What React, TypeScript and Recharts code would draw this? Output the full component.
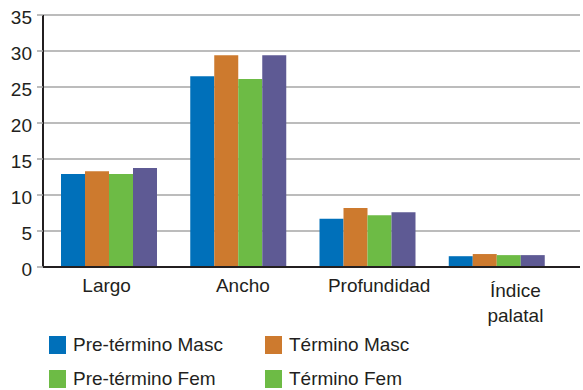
import React from 'react';
import { BarChart, Bar, XAxis, YAxis, CartesianGrid, Legend } from 'recharts';

const categories = ['Largo', 'Ancho', 'Profundidad', 'Índice palatal'];
const pretMasc = [12.9, 26.5, 6.7, 1.5];
const termMasc = [13.3, 29.4, 8.2, 1.8];
const pretFem = [12.9, 26.1, 7.2, 1.65];
const termFem = [13.75, 29.4, 7.6, 1.65];
const yTicks = [0, 5, 10, 15, 20, 25, 30, 35];

const seriesNames = ['Pre-término Masc', 'Término Masc', 'Pre-término Fem', 'Término Fem'];
const seriesKeys = ['pm', 'tm', 'pf', 'tf'];
const seriesColors = ['#0070BA', '#CD7A2E', '#6DBB45', '#5E5A94'];
// legend swatches as shown in the reference (last swatch is green there)
const legendColors = ['#0070BA', '#CD7A2E', '#6DBB45', '#6DBB45'];

const data = categories.map((c, i) => ({
  name: c,
  pm: pretMasc[i],
  tm: termMasc[i],
  pf: pretFem[i],
  tf: termFem[i],
}));

const FONT = '"Liberation Sans", Arial, sans-serif';
const TXT = '#231f20';
const LABEL_DRIFT = 7; // category labels drift right relative to bar groups

const XTick = (props: any) => {
  const { x, y, payload, index } = props;
  const label: string = payload.value;
  const lines = label.includes(' ') ? label.split(' ') : [label];
  const start = lines.length > 1 ? 30 : 25;
  const cx = x - 3 + (index || 0) * LABEL_DRIFT;
  return (
    <text x={cx} y={y} textAnchor="middle" fontFamily={FONT} fontSize={19} fill={TXT}>
      {lines.map((l, i) => (
        <tspan key={i} x={cx} y={y + start + i * 25}>{l}</tspan>
      ))}
    </text>
  );
};

const YTick = (props: any) => {
  const { x, y, payload } = props;
  return (
    <text x={x} y={y + 9} textAnchor="end" fontFamily={FONT} fontSize={19} fill={TXT}>
      {payload.value}
    </text>
  );
};

const LegendContent = () => {
  const pos = [
    { left: 49, top: 336 },
    { left: 265, top: 336 },
    { left: 49, top: 370 },
    { left: 265, top: 370 },
  ];
  return (
    <div style={{ position: 'relative', height: 0 }}>
      {seriesNames.map((n, i) => (
        <div key={n} style={{ position: 'absolute', left: pos[i].left, top: pos[i].top, display: 'flex', alignItems: 'center', whiteSpace: 'nowrap' }}>
          <div style={{ width: 17, height: 18, background: legendColors[i] }} />
          <span style={{ marginLeft: 7, fontFamily: FONT, fontSize: 19, color: TXT, lineHeight: '18px' }}>{n}</span>
        </div>
      ))}
    </div>
  );
};

export default function App() {
  return (
    <div style={{ position: 'absolute', left: 0, top: 0, width: 583, height: 390, background: '#fff' }}>
      <BarChart
        width={583}
        height={390}
        data={data}
        margin={{ top: 15, right: 3, left: 0, bottom: 0 }}
        barCategoryGap={16}
        barGap={0}
      >
        <CartesianGrid vertical={false} stroke="#a6a6a6" strokeWidth={1.5} />
        <XAxis
          dataKey="name"
          height={123}
          padding={{ left: 2, right: 18 }}
          axisLine={{ stroke: TXT, strokeWidth: 2 }}
          tickLine={false}
          tickSize={0}
          tickMargin={0}
          tick={<XTick />}
          interval={0}
        />
        <YAxis
          width={43}
          domain={[0, 35]}
          ticks={yTicks}
          axisLine={{ stroke: TXT, strokeWidth: 2 }}
          tickLine={{ stroke: '#a6a6a6', strokeWidth: 1.5 }}
          tickSize={6}
          tickMargin={5}
          tick={<YTick />}
          interval={0}
        />
        <Legend
          content={<LegendContent />}
          wrapperStyle={{ left: 0, top: 0, bottom: 'auto', width: 583, height: 0 }}
        />
        {seriesKeys.map((k, i) => (
          <Bar key={k} dataKey={k} name={seriesNames[i]} fill={seriesColors[i]} isAnimationActive={false} />
        ))}
      </BarChart>
    </div>
  );
}
